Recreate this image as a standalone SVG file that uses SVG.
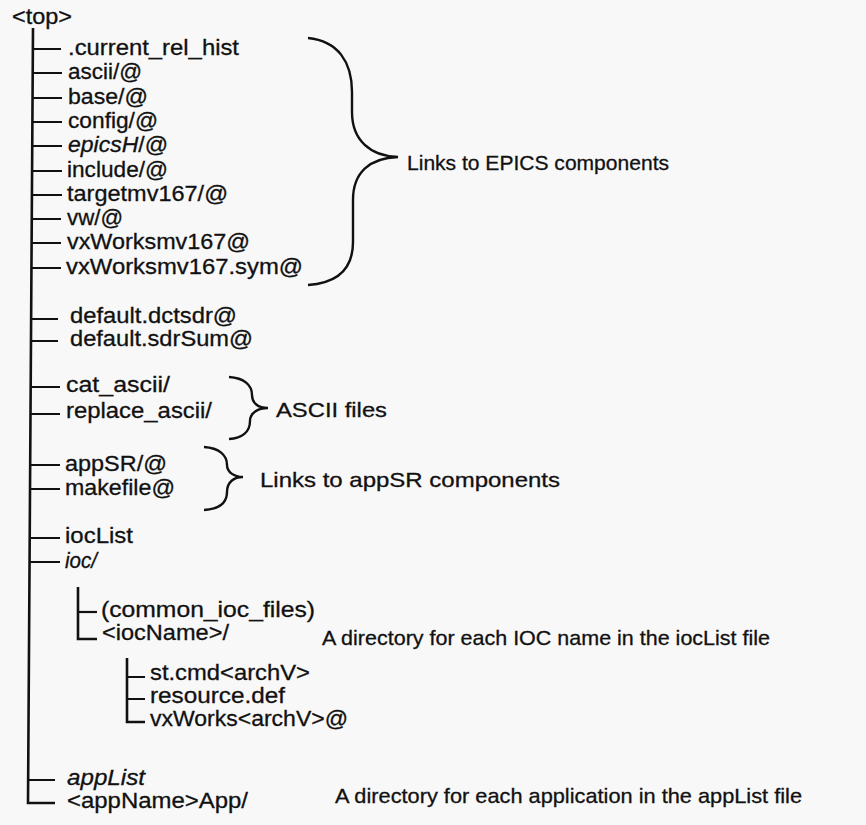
<svg xmlns="http://www.w3.org/2000/svg" width="866" height="825" viewBox="0 0 866 825">
<style>
.bg{fill:#f8f8f8}
text{font-family:"Liberation Sans",Arial,sans-serif;fill:#111;stroke:#111;stroke-width:0.3}
.t{font-size:22px}
.a{font-size:21px}
.it{font-style:italic}
.ln{stroke:#111;stroke-width:2.2;fill:none;stroke-linecap:butt}
.vl{stroke:#111;stroke-width:2.6;fill:none}
.br{stroke:#111;stroke-width:2.4;fill:none}
</style>
<rect class="bg" x="0" y="0" width="866" height="825"/>
<g id="connectors">
<path class="vl" d="M33,28 L28,803 L55,803"/>
<path class="ln" d="M33,49 H61 M33,73 H62 M33,98 H62 M32,122 H62 M32,146 H62 M32,171 H62 M32,195 H62 M32,219 H61 M32,243 H61 M32,268 H61"/>
<path class="ln" d="M31,319 H58 M31,341 H58 M31,387 H60 M31,414 H60 M30,465 H60 M30,489 H60 M30,538 H60 M30,562 H60 M28,780 H55"/>
<path class="vl" d="M78,587 L78,639 L97,639"/>
<path class="ln" d="M78,612 H97"/>
<path class="vl" d="M127,658 L127,722 L145,722"/>
<path class="ln" d="M127,677 H145 M127,699 H145"/>
</g>
<g id="brace-epics">
<path class="br" d="M308,38 C338,41 352,62 352,92 L352,112 C352,140 370,156 398,157 C370,158 353,172 353,200 L353,242 C353,268 338,283 308,285"/>
<text class="a" x="407" y="170" textLength="262" lengthAdjust="spacingAndGlyphs">Links to EPICS components</text>
</g>
<g id="brace-ascii">
<path class="br" d="M229,377 C244,378 252,385 252,395 C252,403 258,408 268,408 C258,408 250,413 250,421 C250,432 242,438 229,439"/>
<text class="a" x="276" y="417" textLength="111" lengthAdjust="spacingAndGlyphs">ASCII files</text>
</g>
<g id="brace-appsr">
<path class="br" d="M204,447 C219,448 227,455 227,465 C227,472 234,477 243,477 C234,477 227,482 227,492 C227,503 219,509 204,510"/>
<text class="a" x="260" y="487" textLength="300" lengthAdjust="spacingAndGlyphs">Links to appSR components</text>
</g>
<g id="top"><text class="t" x="12" y="24" textLength="60" lengthAdjust="spacingAndGlyphs">&lt;top&gt;</text></g>
<g id="n-current"><text class="t" x="68" y="55" textLength="171" lengthAdjust="spacingAndGlyphs">.current_rel_hist</text></g>
<g id="n-ascii"><text class="t" x="68" y="79" textLength="74" lengthAdjust="spacingAndGlyphs">ascii/@</text></g>
<g id="n-base"><text class="t" x="68" y="104" textLength="80" lengthAdjust="spacingAndGlyphs">base/@</text></g>
<g id="n-config"><text class="t" x="68" y="128" textLength="90" lengthAdjust="spacingAndGlyphs">config/@</text></g>
<g id="n-epicsH"><text class="t" x="68" y="152" textLength="100" lengthAdjust="spacingAndGlyphs"><tspan class="it">epicsH</tspan>/@</text></g>
<g id="n-include"><text class="t" x="67" y="177" textLength="101" lengthAdjust="spacingAndGlyphs">include/@</text></g>
<g id="n-target"><text class="t" x="67" y="201" textLength="161" lengthAdjust="spacingAndGlyphs">targetmv167/@</text></g>
<g id="n-vw"><text class="t" x="67" y="225" textLength="56" lengthAdjust="spacingAndGlyphs">vw/@</text></g>
<g id="n-vxworks"><text class="t" x="67" y="249" textLength="183" lengthAdjust="spacingAndGlyphs">vxWorksmv167@</text></g>
<g id="n-vxsym"><text class="t" x="66" y="274" textLength="237" lengthAdjust="spacingAndGlyphs">vxWorksmv167.sym@</text></g>
<g id="n-dctsdr"><text class="t" x="70" y="323" textLength="167" lengthAdjust="spacingAndGlyphs">default.dctsdr@</text></g>
<g id="n-sdrsum"><text class="t" x="70" y="346" textLength="183" lengthAdjust="spacingAndGlyphs">default.sdrSum@</text></g>
<g id="n-catascii"><text class="t" x="66" y="392" textLength="104" lengthAdjust="spacingAndGlyphs">cat_ascii/</text></g>
<g id="n-replace"><text class="t" x="66" y="418" textLength="146" lengthAdjust="spacingAndGlyphs">replace_ascii/</text></g>
<g id="n-appsr"><text class="t" x="65" y="471" textLength="102" lengthAdjust="spacingAndGlyphs">appSR/@</text></g>
<g id="n-makefile"><text class="t" x="65" y="495" textLength="110" lengthAdjust="spacingAndGlyphs">makefile@</text></g>
<g id="n-ioclist"><text class="t" x="65" y="543" textLength="68" lengthAdjust="spacingAndGlyphs">iocList</text></g>
<g id="n-ioc"><text class="t it" x="65" y="568" textLength="32" lengthAdjust="spacingAndGlyphs">ioc/</text></g>
<g id="n-common"><text class="t" x="101" y="617" textLength="214" lengthAdjust="spacingAndGlyphs">(common_ioc_files)</text></g>
<g id="n-iocname"><text class="t" x="102" y="640" textLength="127" lengthAdjust="spacingAndGlyphs">&lt;iocName&gt;/</text>
<text class="a" x="322" y="645" textLength="448" lengthAdjust="spacingAndGlyphs">A directory for each IOC name in the iocList file</text></g>
<g id="n-stcmd"><text class="t" x="150" y="680" textLength="160" lengthAdjust="spacingAndGlyphs">st.cmd&lt;archV&gt;</text></g>
<g id="n-resource"><text class="t" x="150" y="703" textLength="135" lengthAdjust="spacingAndGlyphs">resource.def</text></g>
<g id="n-vxarch"><text class="t" x="150" y="726" textLength="198" lengthAdjust="spacingAndGlyphs">vxWorks&lt;archV&gt;@</text></g>
<g id="n-applist"><text class="t it" x="67" y="785" textLength="78" lengthAdjust="spacingAndGlyphs">appList</text></g>
<g id="n-appname"><text class="t" x="67" y="808" textLength="181" lengthAdjust="spacingAndGlyphs">&lt;appName&gt;App/</text>
<text class="a" x="335" y="803" textLength="467" lengthAdjust="spacingAndGlyphs">A directory for each application in the appList file</text></g>
</svg>
